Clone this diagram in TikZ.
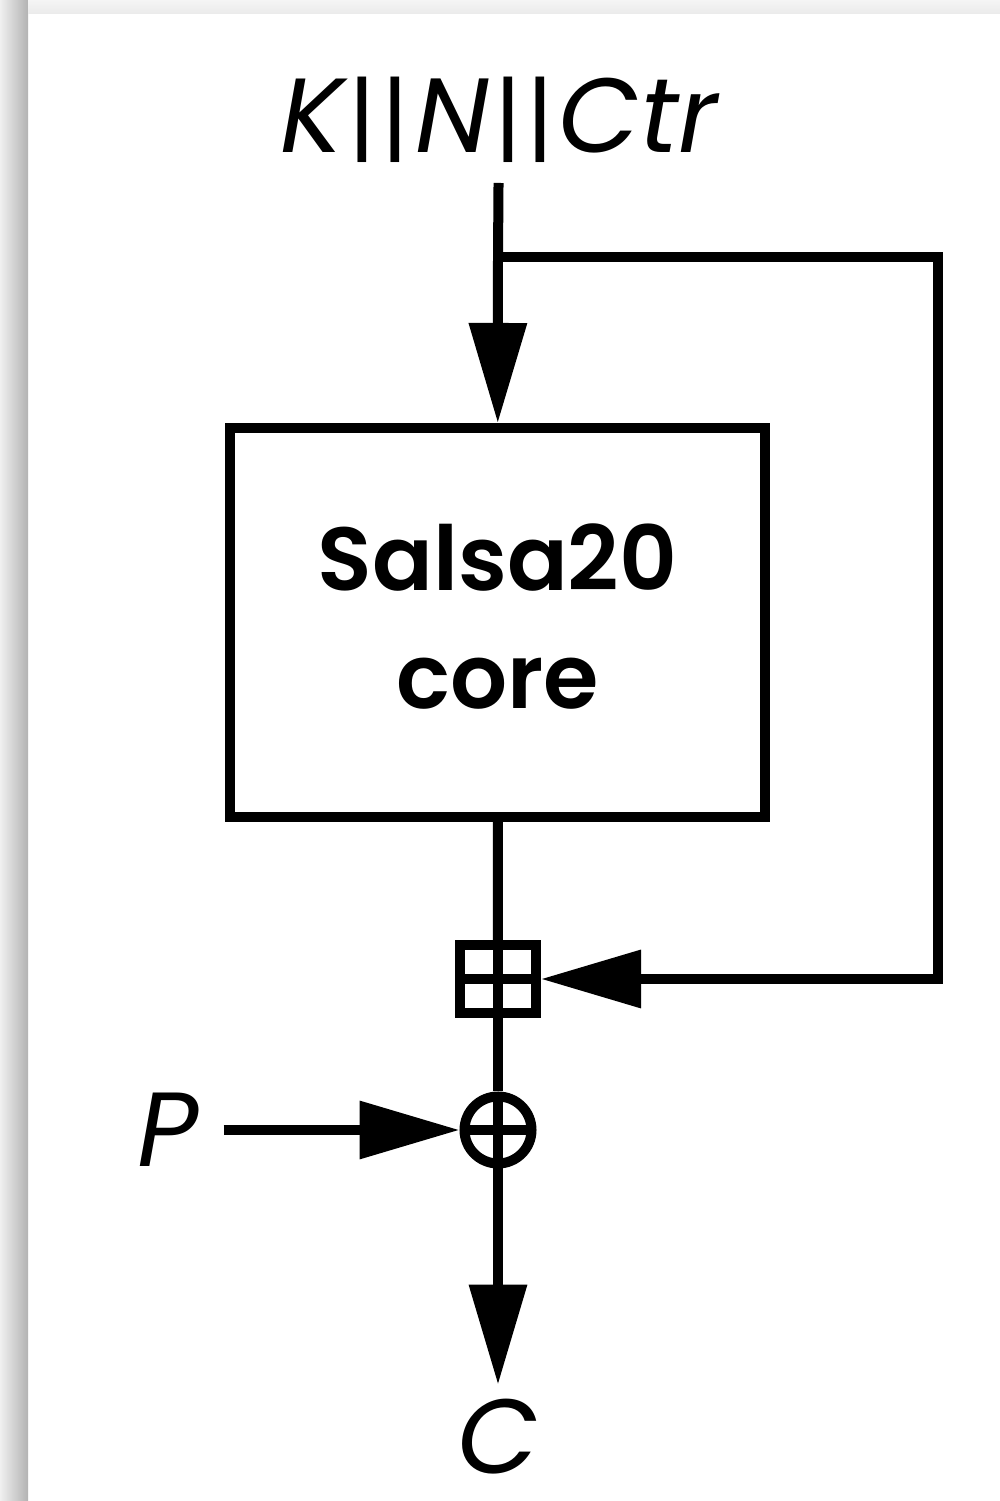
\documentclass[tikz,border=0pt]{standalone}
\usepackage{fontspec}
\setmainfont{Poppins}
\newfontfamily\corefont{Poppins}[BoldFont={* SemiBold}]
\usetikzlibrary{positioning, arrows.meta}

\begin{document}
\begin{tikzpicture}[>={Triangle[length=1cm,width=0.56cm]},line width=0.1cm,
    block/.style={draw,minimum width=5.35cm,minimum height=3.89cm,align=center,
      font=\corefont\bfseries\fontsize{25.5}{33.6}\selectfont,text depth=0.12cm},
    lbl/.style={font=\itshape\fontsize{30}{36}\selectfont},
    cross/.style={path picture={\draw
      (path picture bounding box.west) -- (path picture bounding box.east)
      (path picture bounding box.north) -- (path picture bounding box.south);}},
    adder/.style={draw,cross,minimum width=0.76cm,minimum height=0.68cm,inner sep=0pt},
    xor/.style={draw,cross,circle,minimum size=0.67cm,inner sep=0pt}]
  % page edge
  \useasboundingbox (0,0) rectangle (10,15.01);
  \shade[left color=gray!12,right color=gray!60] (0,0) rectangle (0.28,15.01);
  \shade[top color=gray!8,bottom color=gray!16] (0.28,14.87) rectangle (10,15.01);

  \node[lbl,anchor=base,inner sep=0.25cm,text depth=0pt] (key) at (4.99,13.48)
    {K\kern.05em{\upshape\fontsize{27}{30}\selectfont|\kern.05em|}\kern.06em N\kern.05em{\upshape\fontsize{27}{30}\selectfont|\kern.05em|}\kern.04em Ctr};
  \node[block] (core) at (4.975,8.785) {Salsa20\\core};
  \node[adder] (add) at (4.98,5.22) {};
  \node[xor] (mix) at (4.98,3.71) {};
  \node[lbl,inner sep=0.2cm] (p) at (1.68,3.71) {P};
  \node[lbl,anchor=base,inner sep=0.1cm,text depth=0pt] (c) at (4.98,0.27) {C};
  \coordinate (tap) at (4.98,12.44);
  \coordinate (turn) at (9.38,5.22);

  \draw (key) -- (tap);
  \draw[->] (tap) -- (core);
  \draw[->] (tap) -| (turn) -- (add);
  \draw (core) -- (add);
  \draw (add) -- (mix);
  \draw[->] (p) -- (mix);
  \draw[->] (mix) -- (c);
\end{tikzpicture}
\end{document}
